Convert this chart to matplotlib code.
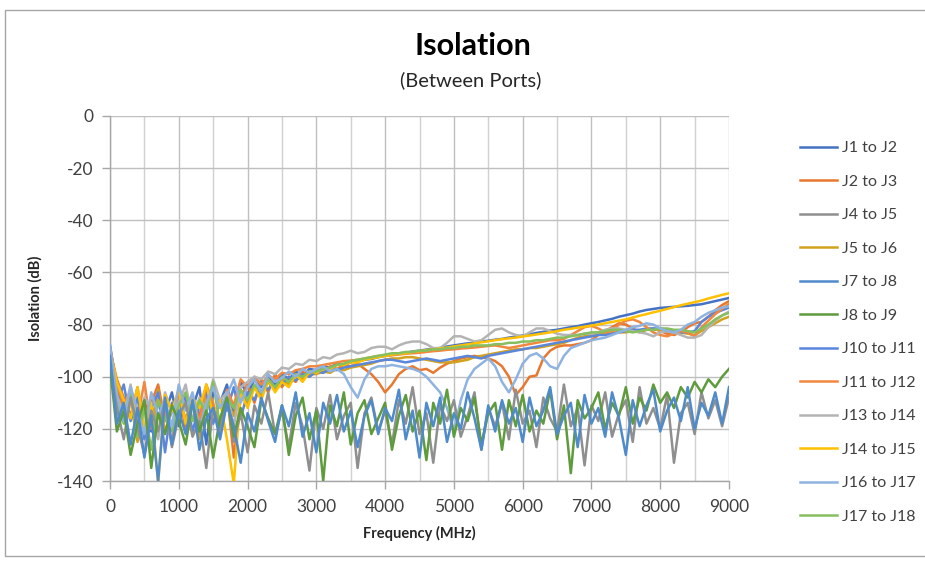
import numpy as np
import matplotlib
matplotlib.use("Agg")
import matplotlib.pyplot as plt
from matplotlib.patches import Rectangle
from matplotlib.ticker import MultipleLocator

plt.rcParams['font.family'] = ['Lato', 'DejaVu Sans']
plt.rcParams['axes.unicode_minus'] = False

freq = list(range(0, 9001, 100))

j1_j2 = [-88, -104, -112, -107, -118, -109, -121, -110, -114, -106,
         -119, -108, -112, -104, -126, -106, -110, -103, -115, -102,
         -107, -101, -104, -100, -103, -99, -101, -98, -99.5, -97,
         -97.5, -96, -96.5, -95, -95.5, -94.5, -94, -93.5, -93.2, -92.5,
         -92, -91.6, -91, -90.8, -90.3, -90, -89.6, -89.2, -89, -88.4,
         -88, -87.6, -87.2, -87, -86.5, -86.2, -85.8, -85.5, -85, -84.6,
         -84.2, -83.8, -83.2, -82.8, -82.3, -82, -81.5, -81, -80.6, -80,
         -79.5, -79, -78.4, -77.8, -77, -76.4, -75.8, -75, -74.4, -74,
         -73.6, -73.4, -73.2, -73, -72.8, -72.5, -72.2, -71.6, -71, -70.4,
         -69.8]
j2_j3 = [-90, -101, -108, -115, -104, -122, -110, -103, -117, -112,
         -106, -120, -109, -115, -104, -111, -118, -106, -131, -108,
         -103, -110, -101, -106, -99, -104, -100, -102, -98, -100,
         -97, -98.5, -96, -97, -95.5, -96, -95, -97, -99, -102,
         -106, -103, -99, -97, -96, -97.5, -97, -98.5, -96.5, -95,
         -94, -93, -92.5, -92, -92.5, -93, -94, -96, -100, -107,
         -104, -100, -99.5, -93, -90, -88.5, -88, -88, -87.5, -87,
         -86, -84, -82.5, -81, -79.5, -80, -81.5, -83, -82, -81.5,
         -82.5, -83.5, -84, -83, -81, -79.5, -79, -77, -74.5, -72.5,
         -71]
j4_j5 = [-95, -112, -124, -108, -119, -130, -113, -121, -109, -127,
         -115, -110, -123, -117, -135, -112, -120, -108, -125, -114,
         -129, -111, -118, -106, -122, -113, -127, -110, -119, -136,
         -112, -120, -107, -124, -115, -110, -135, -114, -108, -121,
         -113, -126, -109, -118, -104, -122, -114, -133, -111, -117,
         -109, -123, -115, -106, -128, -112, -119, -110, -124, -105,
         -118, -113, -127, -108, -116, -121, -103, -119, -112, -134,
         -111, -117, -106, -123, -114, -109, -125, -104, -118, -112,
         -120, -107, -133, -114, -110, -122, -106, -116, -109, -119,
         -108]
j5_j6 = [-93, -106, -114, -109, -125, -111, -118, -105, -121, -113,
         -108, -116, -110, -124, -107, -113, -119, -109, -115, -105,
         -110, -104, -107, -102, -105, -101, -103, -100, -101, -99,
         -99, -98, -98.5, -97, -97.5, -96.5, -96, -95.5, -95, -94,
         -93.5, -93, -93, -92.5, -92.5, -93, -93.5, -94, -94.5, -94.5,
         -94.5, -94, -93.5, -92.5, -92, -91.5, -91, -90.5, -90, -89.5,
         -89.5, -89, -89, -88.5, -88, -87.5, -87, -86, -85, -84.5,
         -84, -83.5, -83.5, -83, -83, -83, -82.5, -82.5, -82, -82,
         -82, -82.5, -83, -83, -83.5, -84, -82.5, -81, -79.5, -78,
         -77]
j7_j8 = [-92, -118, -110, -126, -112, -131, -115, -140, -108, -126,
         -113, -122, -109, -128, -116, -112, -124, -110, -119, -133,
         -114, -121, -108, -117, -125, -111, -119, -106, -123, -114,
         -129, -110, -118, -107, -121, -113, -127, -115, -109, -122,
         -112, -117, -105, -124, -113, -131, -110, -119, -108, -125,
         -114, -120, -106, -116, -128, -111, -121, -109, -118, -112,
         -125, -108, -119, -113, -104, -122, -115, -110, -127, -107,
         -118, -112, -123, -106, -116, -130, -109, -119, -111, -105,
         -121, -113, -108, -117, -104, -120, -110, -115, -106, -118,
         -104]
j8_j9 = [-96, -121, -113, -130, -118, -109, -135, -114, -122, -111,
         -117, -126, -110, -121, -113, -131, -116, -108, -123, -112,
         -119, -127, -109, -116, -122, -111, -130, -115, -108, -124,
         -113, -140, -111, -119, -106, -126, -114, -109, -122, -116,
         -110, -128, -115, -107, -121, -113, -132, -110, -118, -105,
         -123, -112, -117, -108, -126, -114, -110, -128, -109, -119,
         -107, -121, -113, -118, -105, -124, -111, -137, -109, -116,
         -112, -106, -120, -110, -115, -104, -118, -108, -113, -103,
         -110, -106, -112, -104, -108, -102, -106, -101, -104, -100,
         -97]
j10_j11 = [-91, -110, -103, -117, -108, -124, -112, -106, -129, -110,
           -115, -107, -121, -111, -106, -118, -109, -113, -104, -116,
           -106, -109, -102, -105, -101, -103, -100, -101.5, -99, -100,
           -98, -98.5, -97, -97.5, -96.5, -96, -95.5, -95, -94.5, -94,
           -93.5, -93.5, -94, -94.5, -94, -93.5, -93, -93.5, -94, -93.5,
           -93, -92.5, -92, -92.5, -93, -92, -91.5, -91, -90.5, -90,
           -89.5, -89, -88.5, -88, -87.5, -87, -86.5, -86, -85.5, -85,
           -84.5, -84, -84, -83.5, -83, -82.5, -82, -82, -81.5, -81.5,
           -81.5, -82, -82.5, -83, -83, -82.5, -79, -77, -75.5, -74.5,
           -73.5]
j11_j12 = [-89, -103, -111, -105, -116, -102, -120, -109, -113, -126,
           -104, -112, -107, -118, -103, -110, -122, -105, -111, -101,
           -104, -100, -103, -99.5, -101, -98.5, -99, -97.5, -97, -96,
           -96, -95.5, -95, -94.5, -94, -93.8, -93.5, -93, -92.5, -92,
           -92, -91.8, -91.5, -91.2, -91, -90.8, -90.5, -90.2, -90, -89.7,
           -89.5, -89.2, -89, -88.8, -88.5, -88.2, -88, -88.5, -89, -88.5,
           -88, -87.5, -87, -86.5, -86, -86, -85.5, -84, -82.5, -81,
           -80.5, -81.5, -83, -82.5, -80, -78.5, -78, -79, -81, -83,
           -84, -84.5, -83.5, -82.5, -83, -84.5, -81, -78.5, -76, -74,
           -72]
j13_j14 = [-90, -107, -115, -103, -119, -108, -112, -124, -106, -114,
           -110, -103, -117, -108, -113, -101, -109, -106, -119, -104,
           -102, -100, -101, -98, -99, -96.5, -97, -95, -95.5, -93.5,
           -94, -92.5, -93, -91.5, -91, -90, -91, -90.5, -89, -88.5,
           -88.5, -89.5, -88, -87, -86.5, -86.5, -87.5, -89, -89, -87,
           -84.5, -84.5, -85.5, -86.5, -86, -84, -82, -81.5, -83, -84,
           -84.5, -83, -81.5, -81.5, -82.5, -83.5, -84, -84, -84, -83.5,
           -83.5, -83, -82, -81.5, -81.5, -82, -82.5, -83, -83.5, -84.5,
           -83, -82.5, -83, -84, -85, -85, -84, -81, -78.5, -76.5,
           -75]
j14_j15 = [-90, -102, -109, -116, -104, -120, -110, -141, -107, -113,
           -105, -118, -108, -112, -103, -115, -109, -124, -141, -106,
           -112, -104, -109, -101, -106, -102, -104, -99, -102, -98,
           -98.5, -97, -97, -95.5, -95.5, -94.5, -94.5, -93.5, -93, -92.5,
           -92, -91.5, -91.2, -91, -90.5, -90.2, -89.8, -89.5, -89.2, -88.8,
           -88.4, -88, -87.6, -87.2, -86.8, -86.4, -86, -85.6, -85.3, -85,
           -84.6, -84.2, -83.8, -83.4, -83, -82.5, -82, -81.6, -81.2, -80.8,
           -80.4, -80, -79.5, -79, -78.5, -78, -77.3, -76.6, -76, -75.3,
           -74.7, -74, -73.3, -72.6, -72, -71.4, -70.8, -70, -69.3, -68.6,
           -68]
j16_j17 = [-88, -108, -117, -104, -113, -122, -106, -115, -109, -119,
           -103, -113, -106, -120, -110, -104, -112, -107, -101, -110,
           -104, -101, -106, -99, -102, -100.5, -98, -100, -97, -98.5,
           -97, -96, -98, -97, -99, -104, -108, -101, -97, -96,
           -96, -95.5, -96, -96.5, -97, -98, -100, -103, -106, -112,
           -121, -109, -101, -97, -95, -93, -96, -102, -106, -101,
           -95, -92, -91, -93, -96, -97, -92, -89, -88, -87,
           -86, -85.5, -85, -84, -83, -82, -81, -80.5, -79.5, -80,
           -81.5, -82.5, -83, -82, -80, -79, -77, -75.5, -74.5, -73.5,
           -73]
j17_j18 = [-95, -110, -118, -106, -123, -112, -128, -109, -116, -121,
           -111, -106, -117, -109, -114, -102, -119, -108, -112, -105,
           -109, -103, -106, -101, -104, -100, -102, -99, -100, -98,
           -98, -97, -96.5, -95.5, -95, -94, -93.5, -93, -92.5, -92,
           -91.5, -91, -91, -90.5, -90.5, -90, -90, -89.5, -89.5, -89,
           -89, -88.5, -88.5, -88, -88, -88, -87.5, -87.5, -87, -87,
           -86.5, -86.5, -86, -86, -85.5, -85, -85, -84.5, -84, -83.5,
           -83, -83, -82.5, -82, -82, -82.5, -83, -82.5, -82, -82,
           -81.5, -81.5, -82, -82, -82.5, -83, -81.5, -80, -78, -76.5,
           -75.5]

labels = ["J1 to J2", "J2 to J3", "J4 to J5", "J5 to J6", "J7 to J8", "J8 to J9",
          "J10 to J11", "J11 to J12", "J13 to J14", "J14 to J15", "J16 to J17", "J17 to J18"]
series = [j1_j2, j2_j3, j4_j5, j5_j6, j7_j8, j8_j9,
          j10_j11, j11_j12, j13_j14, j14_j15, j16_j17, j17_j18]
colors = ["#4472C4", "#E8782F", "#8F8F8F", "#D2A21E", "#4F8BCB", "#5E9B3C",
          "#5A86DC", "#F2873F", "#B4B4B4", "#FFC000", "#8FB3E0", "#86BF5F"]

fig = plt.figure(figsize=(9.25, 5.63), dpi=100)
ax = fig.add_axes([110/925, 1-481/563, 619/925, 365/563])

order = [0, 1, 3, 6, 7, 8, 9, 11, 10, 2, 5, 4]
lines = {}
for i in order:
    ln, = ax.plot(freq, series[i], color=colors[i], lw=1.8, label=labels[i], zorder=3)
    lines[i] = ln

ax.set_xlim(0, 9000)
ax.set_ylim(-140, 0)
ax.xaxis.set_major_locator(MultipleLocator(1000))
ax.xaxis.set_minor_locator(MultipleLocator(500))
ax.yaxis.set_major_locator(MultipleLocator(20))
ax.grid(True, which='major', axis='both', color='#BFBFBF', lw=1.0, zorder=0)
ax.grid(True, which='minor', axis='x', color='#D0D0D0', lw=1.0, zorder=0)
ax.set_axisbelow(True)
for s in ['top', 'right']:
    ax.spines[s].set_visible(False)
for s in ['left', 'bottom']:
    ax.spines[s].set_color('#A6A6A6')
    ax.spines[s].set_linewidth(1.0)
ax.tick_params(axis='both', which='major', colors='#A6A6A6', labelcolor='#404040',
               labelsize=12.5, length=6, width=1.0, direction='out')
ax.tick_params(axis='x', which='major', pad=7)
ax.tick_params(axis='y', which='major', pad=6)
ax.tick_params(axis='x', which='minor', length=0)

ax.set_xlabel("Frequency (MHz)", fontsize=10.5, fontweight='bold', color='#262626', labelpad=8)
ax.set_ylabel("Isolation (dB)", fontsize=10.5, fontweight='bold', color='#262626', labelpad=10)

fig.text(473/925, 1-46/563, "Isolation", ha='center', va='center', fontsize=22,
         fontweight='bold', color='#000000')
fig.text(471/925, 1-80/563, "(Between Ports)", ha='center', va='center', fontsize=14.5,
         color='#262626')

handles = [lines[i] for i in range(12)]
leg = fig.legend(handles, labels, loc='upper left', bbox_to_anchor=(800/925, 1-141/563),
                 frameon=False, fontsize=11.5, handlelength=2.3, handletextpad=0.3,
                 labelspacing=1.21, borderaxespad=0, borderpad=0)
for t in leg.get_texts():
    t.set_color('#404040')

fig.patches.append(Rectangle((5/925, 1-556/563), 0.999, 546/563, transform=fig.transFigure,
                             fill=False, edgecolor='#A6A6A6', lw=1.0))

fig.savefig("out.png", dpi=100)
